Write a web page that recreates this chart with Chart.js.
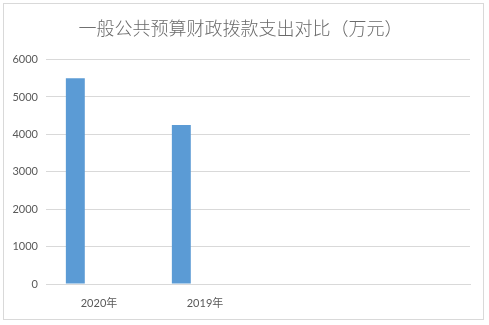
<!DOCTYPE html>
<html><head><meta charset="utf-8">
<script src="https://cdn.jsdelivr.net/npm/chart.js@4/dist/chart.umd.min.js"></script>
<style>
html,body{margin:0;padding:0;background:#fff;}
#wrap{position:relative;width:489px;height:325px;}
#frame{position:absolute;left:3px;top:3px;width:479px;height:315px;border:1px solid #d9d9d9;box-sizing:content-box;}
canvas{position:absolute;left:0;top:0;}
</style></head>
<body>
<div id="wrap"><div id="frame"></div><canvas id="c" width="489" height="325"></canvas></div>
<script>
const categories = ["2020年", "2019年", "", ""];
const spending = [5500, 4250, null, null];
const emptySeriesA = [null, null, null, null];
const emptySeriesB = [null, null, null, null];
const yTicks = [0, 1000, 2000, 3000, 4000, 5000, 6000];
const titleText = "一般公共预算财政拨款支出对比（万元）";

const grey = "#595959";
const fam = "Lato, 'Noto Sans CJK SC', sans-serif";

new Chart(document.getElementById("c"), {
  type: "bar",
  data: {
    labels: categories,
    datasets: [
      {label: "支出", data: spending, backgroundColor: "#5B9BD5", barPercentage: 0.8, categoryPercentage: 0.67},
      {label: "", data: emptySeriesA, backgroundColor: "#ED7D31", barPercentage: 0.8, categoryPercentage: 0.67},
      {label: "", data: emptySeriesB, backgroundColor: "#A5A5A5", barPercentage: 0.8, categoryPercentage: 0.67}
    ]
  },
  options: {
    responsive: false,
    animation: false,
    devicePixelRatio: 1,
    layout: {padding: {left: 11, right: 19, top: 0, bottom: 0}},
    plugins: {
      legend: {display: false},
      tooltip: {enabled: false},
      title: {
        display: true,
        text: titleText,
        color: "#6a6a6a",
        font: {family: "'Noto Sans CJK SC', sans-serif", size: 18, weight: 300, lineHeight: 1.2},
        padding: {top: 17, bottom: 21}
      }
    },
    scales: {
      x: {
        grid: {display: false},
        border: {display: true, color: "#d9d9d9", width: 1},
        ticks: {color: grey, font: {family: fam, size: 11}, padding: 5, maxRotation: 0, autoSkip: false},
        afterFit: s => { s.height = 41; }
      },
      y: {
        min: 0, max: 6000,
        afterBuildTicks: s => { s.ticks = yTicks.map(v => ({value: v})); },
        grid: {color: "#d9d9d9", drawTicks: false, lineWidth: 1},
        border: {display: false},
        ticks: {color: grey, font: {family: fam, size: 11}, padding: 8, callback: v => String(v)},
        afterFit: s => { s.width = 35; }
      }
    }
  }
});
</script>
</body></html>
